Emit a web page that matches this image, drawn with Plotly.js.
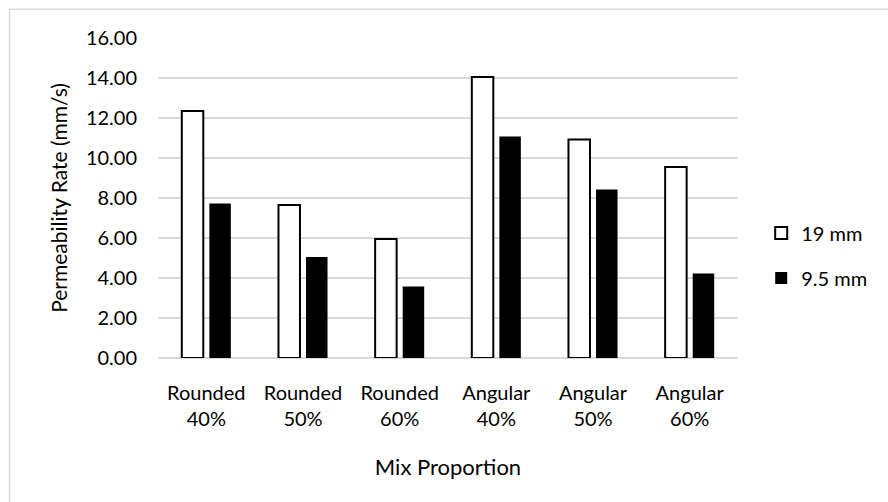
<!DOCTYPE html>
<html>
<head>
<meta charset="utf-8">
<script src="https://cdn.plot.ly/plotly-3.0.1.min.js"></script>
<style>
  html, body { margin: 0; padding: 0; background: #ffffff; }
  #chart { width: 888px; height: 502px; }
</style>
</head>
<body>
<div id="chart"></div>
<script>
// Mix proportions (category labels on the x axis)
const categories = [
  'Rounded<br>40%', 'Rounded<br>50%', 'Rounded<br>60%',
  'Angular<br>40%', 'Angular<br>50%', 'Angular<br>60%'
];

// Permeability rate (mm/s) by aggregate size
const rate19mm  = [12.35, 7.65, 5.95, 14.05, 10.93, 9.55];
const rate9_5mm = [7.72, 5.05, 3.57, 11.08, 8.42, 4.23];

// Y axis ticks
const yTickVals = [0, 2, 4, 6, 8, 10, 12, 14, 16];
const yTickText = ['0.00', '2.00', '4.00', '6.00', '8.00', '10.00', '12.00', '14.00', '16.00'];

const FONT = 'Lato, "Open Sans", sans-serif';

const traces = [
  {
    type: 'bar',
    name: '19 mm',
    x: categories,
    y: rate19mm,
    marker: { color: '#ffffff', line: { color: '#000000', width: 2 } },
    legendgroup: 'a'
  },
  {
    type: 'bar',
    name: '9.5 mm',
    x: categories,
    y: rate9_5mm,
    marker: { color: '#000000', line: { color: '#000000', width: 0 } },
    legendgroup: 'b'
  }
];

const layout = {
  width: 888,
  height: 502,
  paper_bgcolor: '#ffffff',
  plot_bgcolor: '#ffffff',
  margin: { l: 158, r: 150, t: 38, b: 144 },
  barmode: 'group',
  bargap: 0.43,
  bargroupgap: 0.22,
  font: { family: FONT, size: 20, color: '#000000' },
  showlegend: true,
  legend: {
    x: 1.04, xanchor: 'left',
    y: 0.32, yanchor: 'middle',
    font: { family: FONT, size: 20, color: '#000000' },
    traceorder: 'grouped',
    tracegroupgap: 16,
    itemwidth: 30,
    bgcolor: 'rgba(0,0,0,0)'
  },
  xaxis: {
    type: 'category',
    showgrid: false,
    zeroline: false,
    showline: false,
    ticks: '',
    ticklabelstandoff: 21,
    tickfont: { family: FONT, size: 20, color: '#000000' },
    title: { text: 'Mix Proportion', font: { family: FONT, size: 22, color: '#000000' }, standoff: 30 }
  },
  yaxis: {
    range: [0, 16],
    tickvals: yTickVals,
    ticktext: yTickText,
    showgrid: true,
    gridcolor: '#d9d9d9',
    gridwidth: 1.5,
    zeroline: true,
    zerolinecolor: '#d9d9d9',
    zerolinewidth: 1.5,
    showline: false,
    ticks: '',
    ticklabelstandoff: 20,
    tickfont: { family: FONT, size: 20, color: '#000000' },
    title: { text: 'Permeability Rate (mm/s)', font: { family: FONT, size: 21, color: '#000000' }, standoff: 12 }
  },
  shapes: [
    // chart-area frame (top and left edges)
    { type: 'line', xref: 'paper', yref: 'paper', x0: -0.256, x1: 1.3, y0: 1.09, y1: 1.09,
      line: { color: '#d9d9d9', width: 1.5 } },
    { type: 'line', xref: 'paper', yref: 'paper', x0: -0.256, x1: -0.256, y0: -0.5, y1: 1.09,
      line: { color: '#d9d9d9', width: 1.5 } }
  ]
};

Plotly.newPlot('chart', traces, layout, { displayModeBar: false, staticPlot: true });
</script>
</body>
</html>
